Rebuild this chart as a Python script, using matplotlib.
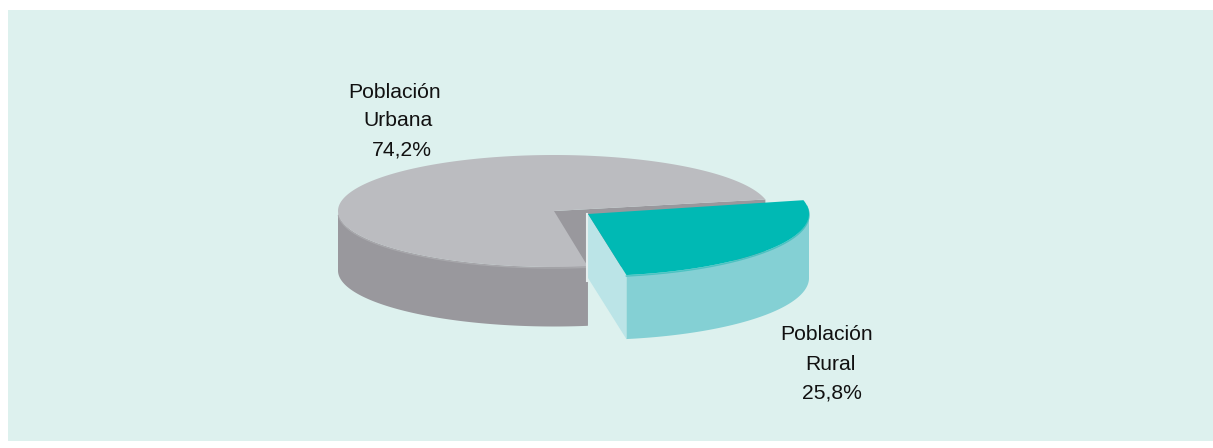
import numpy as np
import matplotlib.pyplot as plt
from matplotlib.patches import Polygon, Rectangle

plt.rcParams['font.family'] = ['Liberation Sans', 'DejaVu Sans']

labels = [["Población", "Urbana", "74,2%"], ["Población", "Rural", "25,8%"]]
shares = [74.2, 25.8]

fig = plt.figure(figsize=(12.13, 4.48), dpi=100)
ax = fig.add_axes([0, 0, 1, 1])
ax.set_xlim(0, 1213)
ax.set_ylim(448, 0)
ax.axis('off')

ax.add_patch(Rectangle((8, 10), 1205, 431, fc='#ddf1ee', ec='none'))

# slice angles, rural starts just right of straight down
rural_start = -80.0
rural_end = rural_start + 360 * shares[1] / 100
urban_start = rural_end - 1
urban_end = urban_start + 360 * shares[0] / 100


def arc(cx, cy, rx, ry, a0, a1, n=200):
    t = np.radians(np.linspace(a0, a1, n))
    return np.column_stack([cx + rx * np.cos(t), cy - ry * np.sin(t)])


def side(cx, cy, rx, ry, a0, a1, depth, color, z):
    top = arc(cx, cy, rx, ry, a0, a1)
    bottom = top[::-1] + [0, depth]
    ax.add_patch(Polygon(np.vstack([top, bottom]), fc=color, ec='none', zorder=z))


def face(cx, cy, rx, ry, a, depth, color, z):
    rim = arc(cx, cy, rx, ry, a, a, 1)[0]
    pts = [(cx, cy), rim, rim + [0, depth], (cx, cy + depth)]
    ax.add_patch(Polygon(pts, fc=color, ec='none', zorder=z))


def top(cx, cy, rx, ry, a0, a1, color, z):
    pts = np.vstack([[(cx, cy)], arc(cx, cy, rx, ry, a0, a1)])
    ax.add_patch(Polygon(pts, fc=color, ec='none', zorder=z))


# urban slice
ucx, ucy, urx, ury, ud = 554, 211, 216, 56, 59.5
side(ucx, ucy, urx, ury, 180, urban_end, ud, '#99989d', 1)
face(ucx, ucy, urx, ury, urban_start, ud, '#99989d', 2)
face(ucx, ucy, urx, ury, urban_end, ud, '#99989d', 2)
top(ucx, ucy, urx, ury, urban_start, urban_end, '#bbbcc0', 3)
rim = arc(ucx, ucy + 1, urx, ury, 184, urban_end)
ax.plot(rim[:, 0], rim[:, 1], color='#a8a8ac', lw=1, zorder=2.5)

# rural slice, pulled out
rcx, rcy, rrx, rry, rd = 588, 214, 221, 62, 64
side(rcx, rcy, rrx, rry, rural_start, 0, rd, '#84d0d4', 4)
face(rcx, rcy, rrx, rry, rural_start, rd, '#bbe4e7', 5)
ax.plot([rcx - 1, rcx - 1], [rcy, rcy + rd + 3], color='#e6efef', lw=1.5, zorder=5)
top(rcx, rcy, rrx, rry, rural_start, rural_end, '#00b9b4', 6)
rim = arc(rcx, rcy + 1, rrx, rry, rural_start, 8)
ax.plot(rim[:, 0], rim[:, 1], color='#4cc2c2', lw=1, zorder=5.5)

# labels, each line placed by hand as in the original
for txt, x, y in zip(labels[0], [348, 363, 372], [92, 121, 150]):
    ax.text(x, y, txt, fontsize=15.2, color='#111111', va='center', ha='left')
for txt, x, y in zip(labels[1], [780, 805, 802], [335, 364, 393]):
    ax.text(x, y, txt, fontsize=15.2, color='#111111', va='center', ha='left')

plt.savefig('out.png', dpi=100)
plt.close()
